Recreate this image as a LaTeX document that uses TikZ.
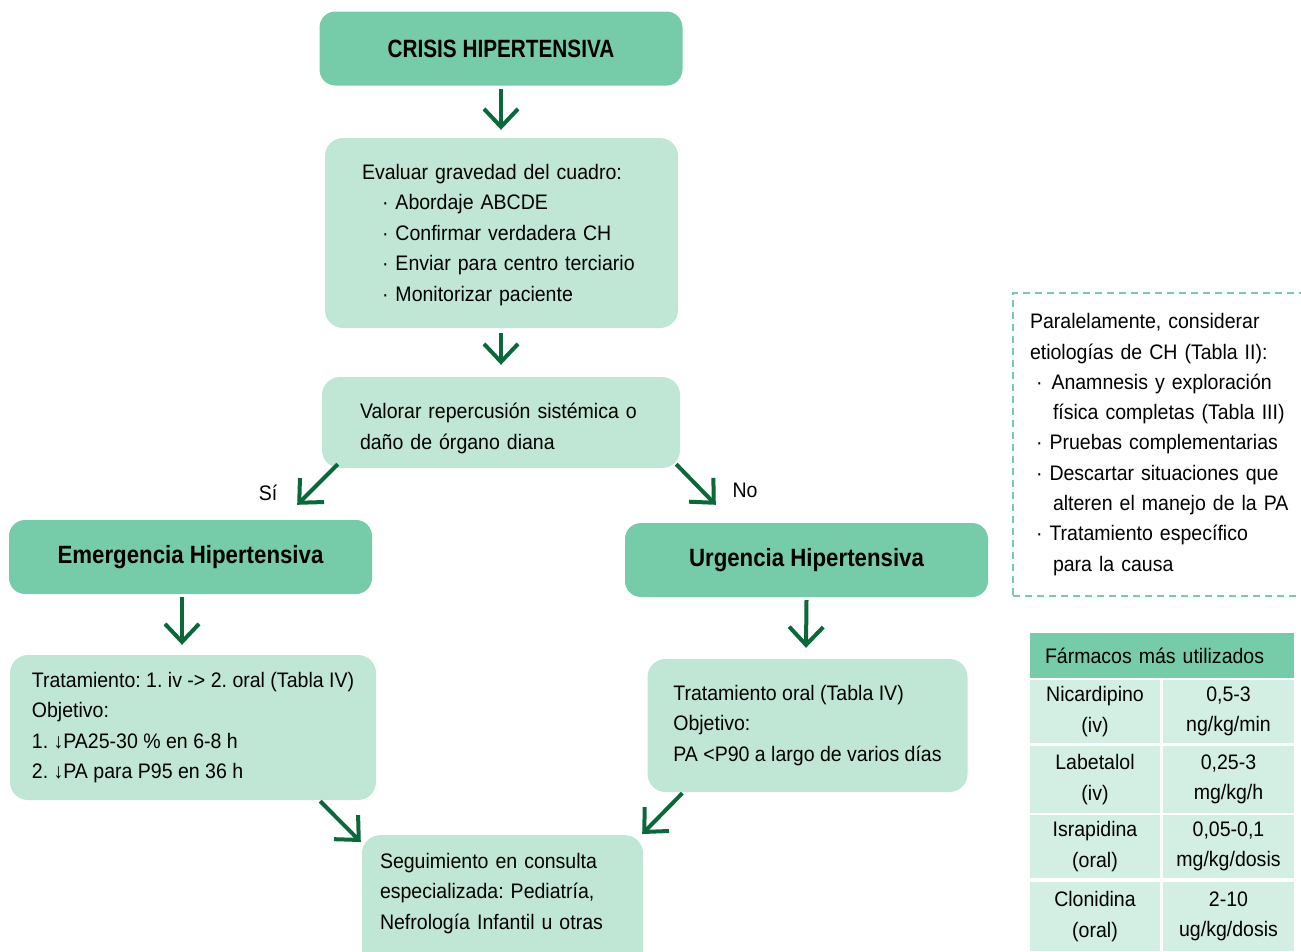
\documentclass[tikz,border=0pt]{standalone}
\usepackage{fontspec}
\setmainfont{Liberation Sans}[FakeStretch=0.93]
\newfontfamily\titlefont{Liberation Sans}[FakeStretch=0.89]
\newfontfamily\capsfont{Liberation Sans}[FakeStretch=0.83]
\definecolor{verdeosc}{HTML}{76CBA9}
\definecolor{verdeclaro}{HTML}{C0E6D6}
\definecolor{verdecelda}{HTML}{D3EEE3}
\definecolor{verdeflecha}{HTML}{0A683A}
\usetikzlibrary{arrows.meta, calc, positioning}
\newcommand{\punto}{\hspace*{20pt}·\ }
\newcommand{\sangria}{\hspace*{23pt}}
\frenchspacing

\begin{document}
\begin{tikzpicture}[x=1pt, y=-1pt]

  \tikzstyle{titulo} = [%
  rectangle,
  rounded corners=16pt,
  fill=verdeosc,
  font=\titlefont\bfseries\fontsize{25}{28}\selectfont,
  minimum width=363pt,
  minimum height=74pt,
  inner sep=0pt,
  ];

  \tikzstyle{bloque} = [%
  rectangle,
  rounded corners=18pt,
  fill=verdeclaro,
  align=left,
  font=\frenchspacing\fontsize{21}{30.5}\selectfont,
  inner sep=0pt,
  ];

  \tikzstyle{nota} = [%
  rectangle,
  draw=verdeosc,
  line width=2pt,
  dash pattern=on 7pt off 5pt,
  align=left,
  font=\fontsize{21}{30.3}\selectfont,
  inner ysep=0pt,
  ];

  \tikzstyle{celda} = [%
  rectangle,
  fill=verdecelda,
  align=center,
  font=\fontsize{21}{30.5}\selectfont,
  inner sep=0pt,
  ];

  \tikzstyle{flecha} = [%
  draw=verdeflecha,
  line width=4pt,
  -{Straight Barb[length=18pt,width=34pt]},
  ];

  \useasboundingbox (0,0) rectangle (1301,951);

  % flujo principal
  \node[titulo, font=\capsfont\bfseries\fontsize{25}{28}\selectfont] (crisis) at (501,48.5) {CRISIS HIPERTENSIVA};

  \node[bloque, minimum width=353pt, minimum height=190pt,
    text width=279pt, inner xsep=37pt] (evaluar) at (501.5,233)
  {\rule{0pt}{19pt}Evaluar gravedad del cuadro:\\
    \punto Abordaje ABCDE\\
    \punto Confirmar verdadera CH\\
    \punto Enviar para centro terciario\\
    \punto Monitorizar paciente};

  \node[bloque, minimum width=358pt, minimum height=91pt,
    text width=282pt, inner xsep=38pt] (valorar) at (501,422.5)
  {\rule{0pt}{27pt}Valorar repercusión sistémica o\\
    daño de órgano diana};

  \node[titulo] (emergencia) at (190.5,557) {Emergencia Hipertensiva};
  \node[titulo] (urgencia) at (806.5,560) {Urgencia Hipertensiva};

  \node[font=\fontsize{21}{25}\selectfont] (si) at (268,493) {Sí};
  \node[font=\fontsize{21}{25}\selectfont] (no) at (745,490) {No};

  \node[bloque, minimum width=366pt, minimum height=145pt] (trativ) at (193,727.5)
  {Tratamiento: 1. iv -> 2. oral (Tabla IV)\\
    Objetivo:\\
    1. ↓PA25-30 \% en 6-8 h\\
    2. ↓PA para P95 en 36 h};

  \node[bloque, minimum width=320pt, minimum height=133pt] (tratoral) at (807.5,725.5)
  {Tratamiento oral (Tabla IV)\\
    Objetivo:\\
    PA <P90 a largo de varios días};

  \node[bloque, anchor=north, minimum width=281pt,
    text width=245pt, inner xsep=18pt, inner ysep=18pt] (seguimiento) at (502.5,835)
  {Seguimiento en consulta\\
    especializada: Pediatría,\\
    Nefrología Infantil u otras\rule[-70pt]{0pt}{70pt}};

  % flechas
  \draw[flecha] ($(crisis.south)+(0,3)$) -- ($(evaluar.north)+(-0.5,-8)$);
  \draw[flecha] ($(evaluar.south)+(-0.5,5)$) -- ($(valorar.north)+(0,-12)$);
  \draw[flecha] ($(valorar.south west)+(16,-4)$) -- ($(emergencia.north east)+(-75,-15)$);
  \draw[flecha] ($(valorar.south east)+(-4,-4)$) -- ($(urgencia.north west)+(91,-18)$);
  \draw[flecha] ($(emergencia.south)+(-8.5,3)$) -- ($(trativ.north)+(-11,-10)$);
  \draw[flecha] ($(urgencia.south)+(0,3)$) -- ($(tratoral.north)+(-1.5,-11)$);
  \draw[flecha] ($(trativ.south east)+(-56,1)$) -- ($(seguimiento.north west)+(-1,7)$);
  \draw[flecha] ($(tratoral.south west)+(35,1)$) -- ($(seguimiento.north east)+(-1,-1)$);

  % nota lateral
  \node[nota, minimum width=307pt, minimum height=303pt,
    text width=273pt, inner xsep=17pt] (paralelo) at (1166.5,444.5)
  {Paralelamente, considerar\\
    etiologías de CH (Tabla II):\\
    \hspace*{6pt}·\hspace*{9pt}Anamnesis y exploración\\
    \sangria física completas (Tabla III)\\
    \hspace*{6pt}· Pruebas complementarias\\
    \hspace*{6pt}· Descartar situaciones que\\
    \sangria alteren el manejo de la PA\\
    \hspace*{6pt}· Tratamiento específico\\
    \sangria para la causa};

  % tabla de farmacos
  \node[celda, fill=verdeosc, align=left, minimum width=264pt, minimum height=45pt,
    text width=234pt, inner xsep=15pt] (farmacos) at (1162,655.5) {Fármacos más utilizados};

  \node[celda, minimum width=130pt, minimum height=63pt] (nicar) at (1095,711.5) {Nicardipino\\(iv)};
  \node[celda, minimum width=131pt, minimum height=63pt] (nicard) at (1228.5,711.5) {0,5-3\\ng/kg/min};
  \node[celda, minimum width=130pt, minimum height=67pt] (labet) at (1095,779.5) {Labetalol\\(iv)};
  \node[celda, minimum width=131pt, minimum height=67pt] (labetd) at (1228.5,779.5) {0,25-3\\mg/kg/h};
  \node[celda, minimum width=130pt, minimum height=63pt] (isra) at (1095,846.5) {Israpidina\\(oral)};
  \node[celda, minimum width=131pt, minimum height=63pt] (israd) at (1228.5,846.5) {0,05-0,1\\mg/kg/dosis};
  \node[celda, minimum width=130pt, minimum height=69pt] (cloni) at (1095,916.5) {Clonidina\\(oral)};
  \node[celda, minimum width=131pt, minimum height=69pt] (clonid) at (1228.5,916.5) {2-10\\ug/kg/dosis};

\end{tikzpicture}
\end{document}
